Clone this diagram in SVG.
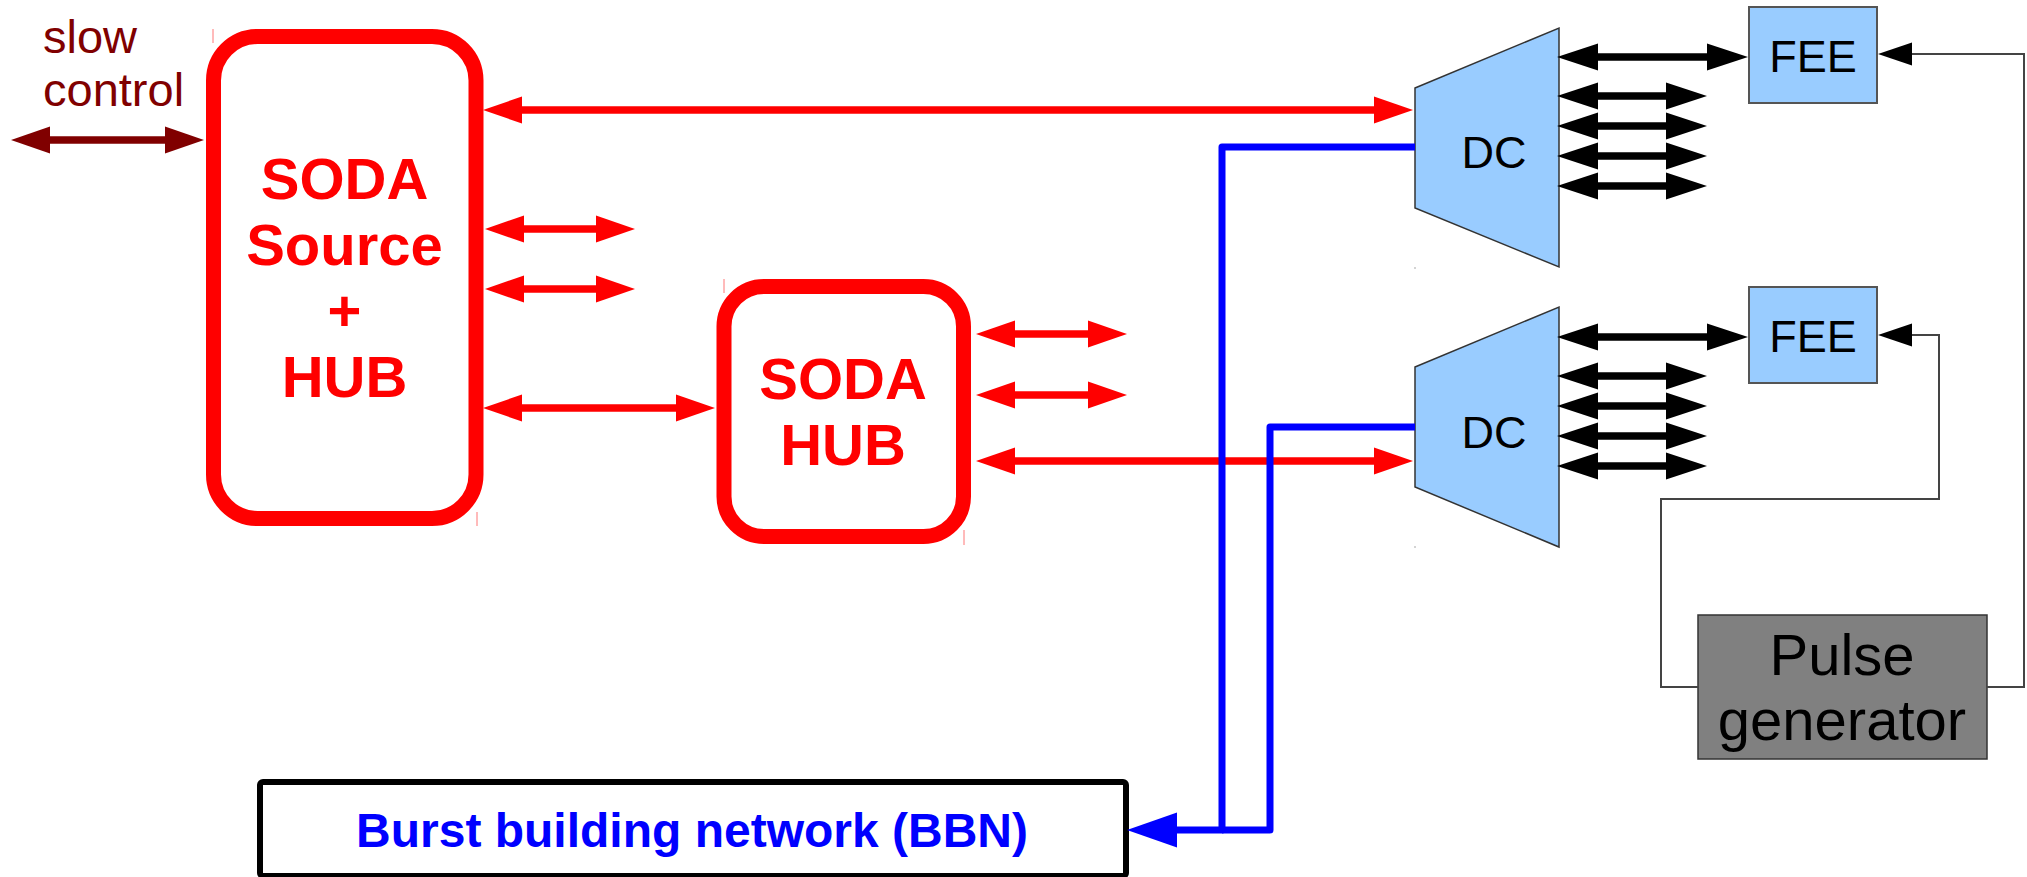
<svg xmlns="http://www.w3.org/2000/svg" width="2027" height="877" viewBox="0 0 2027 877">
<style>
.sans{font-family:"Liberation Sans",Arial,sans-serif}
.bold{font-weight:bold}
.red{stroke:#ff0000;stroke-width:7.5;fill:none}
.blk{stroke:#000000;stroke-width:7.5;fill:none}
.blue{stroke:#0000ff;stroke-width:7;fill:none;stroke-linejoin:round}
.gray{stroke:#444444;stroke-width:2;fill:none}
.tick{stroke:#ff7777;stroke-width:1}
.dc{fill:#99ccff;stroke:#333333;stroke-width:1.5}
.fee{fill:#99ccff;stroke:#555555;stroke-width:2}
marker{overflow:visible}
</style>
<defs>
<marker id="hr" markerUnits="userSpaceOnUse" markerWidth="40" markerHeight="28" refX="0" refY="14" orient="auto-start-reverse"><path d="M0,0.5 L39,14 L0,27.5 z" fill="#ff0000"/></marker>
<marker id="hm" markerUnits="userSpaceOnUse" markerWidth="40" markerHeight="28" refX="0" refY="14" orient="auto-start-reverse"><path d="M0,0.5 L39,14 L0,27.5 z" fill="#800000"/></marker>
<marker id="hk" markerUnits="userSpaceOnUse" markerWidth="42" markerHeight="28" refX="0" refY="14" orient="auto-start-reverse"><path d="M0,0.5 L41,14 L0,27.5 z" fill="#000000"/></marker>
<marker id="hb" markerUnits="userSpaceOnUse" markerWidth="50" markerHeight="36" refX="0" refY="18" orient="auto-start-reverse"><path d="M0,0.5 L50,18 L0,35.5 z" fill="#0000ff"/></marker>
<marker id="hg" markerUnits="userSpaceOnUse" markerWidth="34" markerHeight="24" refX="0" refY="12" orient="auto-start-reverse"><path d="M0,0.5 L34,12 L0,23.5 z" fill="#000000"/></marker>
</defs>
<rect width="2027" height="877" fill="#ffffff"/>

<g id="slow-control">
<text class="sans" x="43" y="53" font-size="47" fill="#800000">slow</text>
<text class="sans" x="43" y="106" font-size="47" fill="#800000">control</text>
</g>

<g id="soda-source">
<rect x="213.5" y="36.5" width="262.5" height="482" rx="44" ry="44" fill="#ffffff" stroke="#ff0000" stroke-width="15"/>
<text class="sans bold" text-anchor="middle" font-size="58" fill="#ff0000"><tspan x="344.5" y="199">SODA</tspan><tspan x="344.5" y="265">Source</tspan><tspan x="344.5" y="331">+</tspan><tspan x="344.5" y="397">HUB</tspan></text>
<line class="tick" x1="213" y1="29" x2="213" y2="43"/>
<line class="tick" x1="477" y1="512" x2="477" y2="526"/>
</g>

<g id="soda-hub">
<rect x="724" y="286.5" width="239.5" height="250" rx="40" ry="40" fill="#ffffff" stroke="#ff0000" stroke-width="15"/>
<text class="sans bold" text-anchor="middle" font-size="58" fill="#ff0000"><tspan x="843" y="399">SODA</tspan><tspan x="843" y="465">HUB</tspan></text>
<line class="tick" x1="724" y1="279" x2="724" y2="293"/>
<line class="tick" x1="964" y1="530" x2="964" y2="545"/>
</g>

<g id="dc-top">
<polygon class="dc" points="1415,88 1559,28 1559,267 1415,208"/>
<rect x="1414.5" y="267.5" width="1" height="1" fill="#555555"/>
<text class="sans" x="1494" y="168" font-size="45" text-anchor="middle" fill="#000000">DC</text>
</g>

<g id="dc-bottom">
<polygon class="dc" points="1415,367 1559,307 1559,547 1415,487"/>
<rect x="1414.5" y="546.5" width="1" height="1" fill="#555555"/>
<text class="sans" x="1494" y="448" font-size="45" text-anchor="middle" fill="#000000">DC</text>
</g>

<g id="fee-top">
<rect class="fee" x="1749" y="7" width="128" height="96"/>
<text class="sans" x="1813" y="72" font-size="45" text-anchor="middle" fill="#000000">FEE</text>
</g>

<g id="fee-bottom">
<rect class="fee" x="1749" y="287" width="128" height="96"/>
<text class="sans" x="1813" y="352" font-size="45" text-anchor="middle" fill="#000000">FEE</text>
</g>

<g id="pulse-generator">
<rect x="1698" y="615" width="289" height="144" fill="#808080" stroke="#333333" stroke-width="1.5"/>
<text class="sans" text-anchor="middle" font-size="58" fill="#000000"><tspan x="1842" y="675">Pulse</tspan><tspan x="1842" y="740">generator</tspan></text>
</g>

<g id="bbn">
<rect x="260" y="782" width="866" height="94" rx="3" ry="3" fill="#ffffff" stroke="#000000" stroke-width="6"/>
<text class="sans bold" x="692" y="847" font-size="48" text-anchor="middle" fill="#0000ff">Burst building network (BBN)</text>
</g>

<g id="connectors">
<line x1="50" y1="140" x2="165" y2="140" stroke="#800000" stroke-width="7.5" marker-start="url(#hm)" marker-end="url(#hm)"/>
<line class="red" x1="522" y1="110" x2="1374" y2="110" marker-start="url(#hr)" marker-end="url(#hr)"/>
<line class="red" x1="524" y1="229" x2="596" y2="229" marker-start="url(#hr)" marker-end="url(#hr)"/>
<line class="red" x1="524" y1="289" x2="596" y2="289" marker-start="url(#hr)" marker-end="url(#hr)"/>
<line class="red" x1="522" y1="408" x2="676" y2="408" marker-start="url(#hr)" marker-end="url(#hr)"/>
<line class="red" x1="1015" y1="334" x2="1088" y2="334" marker-start="url(#hr)" marker-end="url(#hr)"/>
<line class="red" x1="1015" y1="395" x2="1088" y2="395" marker-start="url(#hr)" marker-end="url(#hr)"/>
<line class="red" x1="1015" y1="461" x2="1374" y2="461" marker-start="url(#hr)" marker-end="url(#hr)"/>

<line class="blk" x1="1598" y1="57" x2="1707" y2="57" marker-start="url(#hk)" marker-end="url(#hk)"/>
<line class="blk" x1="1598" y1="96" x2="1666" y2="96" marker-start="url(#hk)" marker-end="url(#hk)"/>
<line class="blk" x1="1598" y1="126" x2="1666" y2="126" marker-start="url(#hk)" marker-end="url(#hk)"/>
<line class="blk" x1="1598" y1="156" x2="1666" y2="156" marker-start="url(#hk)" marker-end="url(#hk)"/>
<line class="blk" x1="1598" y1="186" x2="1666" y2="186" marker-start="url(#hk)" marker-end="url(#hk)"/>
<line class="blk" x1="1598" y1="337" x2="1707" y2="337" marker-start="url(#hk)" marker-end="url(#hk)"/>
<line class="blk" x1="1598" y1="376" x2="1666" y2="376" marker-start="url(#hk)" marker-end="url(#hk)"/>
<line class="blk" x1="1598" y1="406" x2="1666" y2="406" marker-start="url(#hk)" marker-end="url(#hk)"/>
<line class="blk" x1="1598" y1="436" x2="1666" y2="436" marker-start="url(#hk)" marker-end="url(#hk)"/>
<line class="blk" x1="1598" y1="466" x2="1666" y2="466" marker-start="url(#hk)" marker-end="url(#hk)"/>

<polyline class="blue" points="1415,427 1270,427 1270,830 1222,830"/>
<polyline class="blue" points="1415,147 1222,147 1222,830 1177,830" marker-end="url(#hb)"/>

<polyline class="gray" points="1987,687 2024,687 2024,54 1912,54" marker-end="url(#hg)"/>
<polyline class="gray" points="1698,687 1661,687 1661,499 1939,499 1939,335 1912,335" marker-end="url(#hg)"/>
</g>
</svg>
